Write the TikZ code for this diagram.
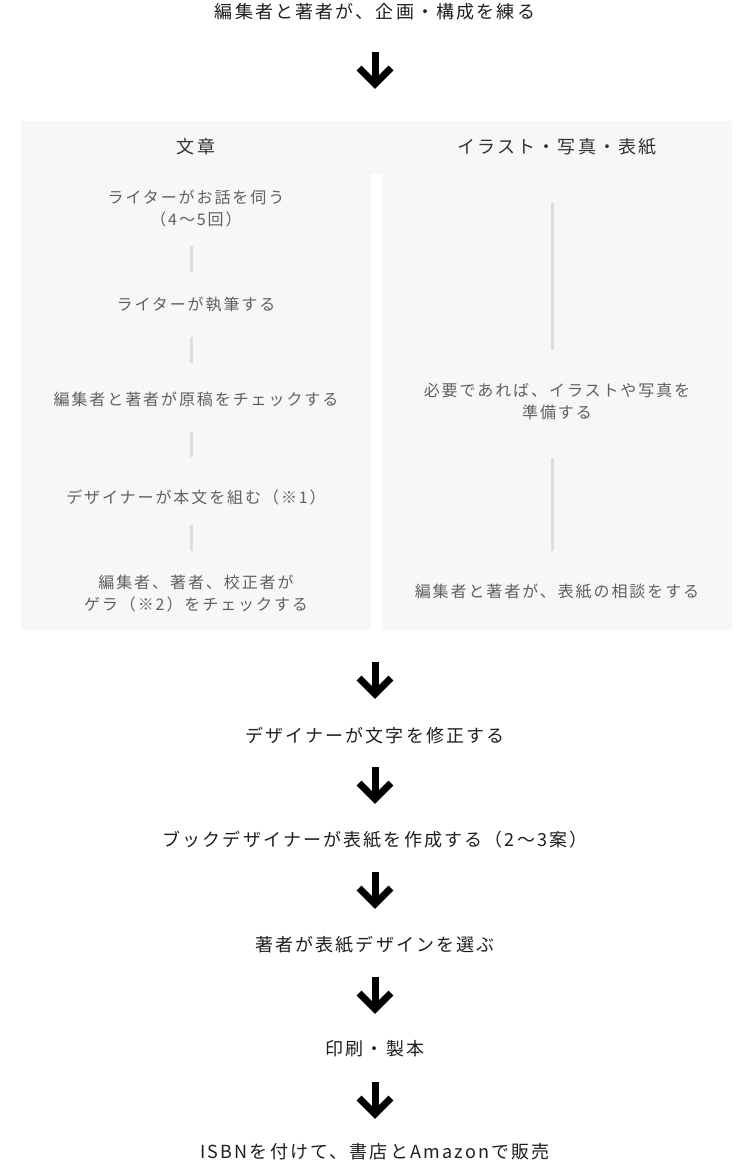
\documentclass[tikz,border=0pt]{standalone}
\usepackage{fontspec}
\newfontfamily\jpfont[LetterSpace=12]{Noto Sans CJK JP}
\definecolor{panelgray}{HTML}{F7F7F7}
\definecolor{rulegray}{HTML}{DDDDDD}
\definecolor{stepgray}{HTML}{606060}
\definecolor{headgray}{HTML}{333333}
\definecolor{maintext}{HTML}{1E1E1E}
\tikzset{
  vline/.style={draw=rulegray, line width=3pt},
  stem/.style={draw=black, line width=7pt},
  head/.style={draw=black, line width=7pt, miter limit=10}
}

\begin{document}
\begin{tikzpicture}[x=1pt,y=-1pt]

      \useasboundingbox (0,0) rectangle (750,1164);

      \fill[panelgray] (21,121)  rectangle (732,174);
      \fill[panelgray] (21,121)  rectangle (371,630);
      \fill[panelgray] (382,121) rectangle (732,630);

      \begin{scope}[every node/.style={text=maintext, font=\fontsize{18}{24}\selectfont\jpfont}]
        \node (plan)   at (375,12)   {編集者と著者が、企画・構成を練る};
        \node (fix)    at (375,736)  {デザイナーが文字を修正する};
        \node (cover)  at (375,840)  {ブックデザイナーが表紙を作成する（2〜3案）};
        \node (choose) at (375,945)  {著者が表紙デザインを選ぶ};
        \node (print)  at (375,1049) {印刷・製本};
        \node (sell)   at (375,1152) {ISBNを付けて、書店とAmazonで販売};
      \end{scope}

      \begin{scope}[every node/.style={text=headgray, font=\fontsize{18}{24}\selectfont\jpfont}]
        \node (text)  at (196,147) {文章};
        \node (illus) at (557,147) {イラスト・写真・表紙};
      \end{scope}

      \begin{scope}[every node/.style={text=stepgray, align=center, font=\fontsize{16}{22}\selectfont\jpfont}]
        \node (interview) at (196,208) {ライターがお話を伺う\\（4〜5回）};
        \node (write)     at (196,305) {ライターが執筆する};
        \node (check)     at (196,399) {編集者と著者が原稿をチェックする};
        \node (layout)    at (196,497) {デザイナーが本文を組む（※1）};
        \node (proof)     at (196,593) {編集者、著者、校正者が\\ゲラ（※2）をチェックする};
        \node (prepare)   at (557,401) {必要であれば、イラストや写真を\\準備する};
        \node (consult)   at (557,592) {編集者と著者が、表紙の相談をする};
      \end{scope}

      % gray step lines
      \foreach \x/\a/\b [count=\i] in {191/246/272,191/337/363,191/432/457,191/525/551,552/203/350,552/458/551}{
        \coordinate (ls\i) at (\x,\a);
        \coordinate (le\i) at (\x,\b);
        \path (ls\i) edge[vline] (le\i);
      }

      % big down arrows
      \foreach \t [count=\i] in {52,662,767,872,977,1082}{
        \coordinate (as\i) at (375,\t);
        \coordinate (ae\i) at (375,\t+32);
        \path (as\i) edge[stem] ([yshift=3pt]ae\i);
        \draw[head] (ae\i) ++(-16,-16) -- (ae\i) -- ++(16,-16);
      }

    \end{tikzpicture}
\end{document}
